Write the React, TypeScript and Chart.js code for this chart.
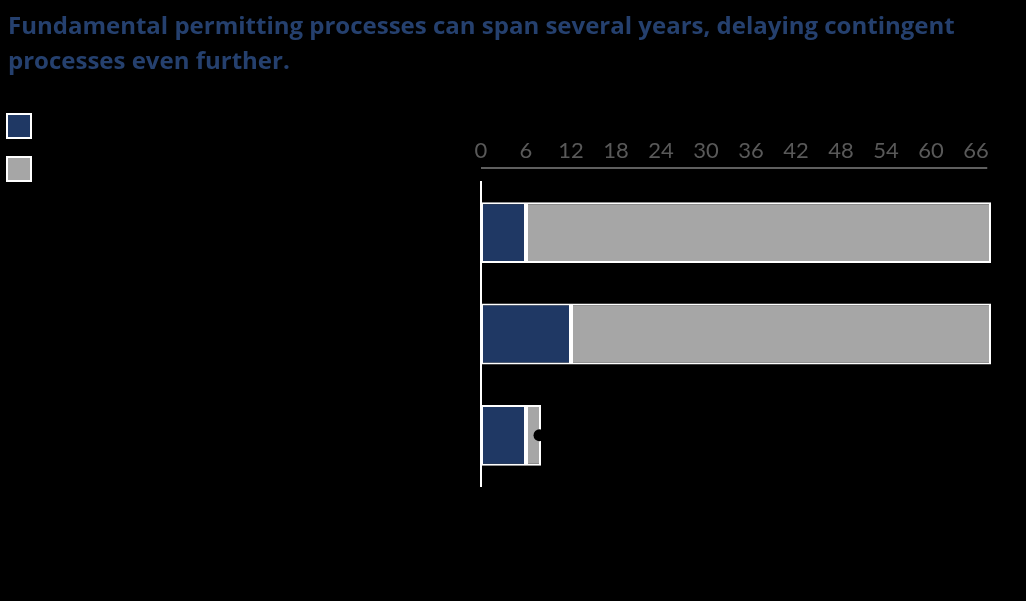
import React, { useEffect, useRef } from 'react';
import { Chart, registerables } from 'chart.js';

Chart.register(...registerables);

// ---- data (months) ----
const categories = ['Process A', 'Process B', 'Process C'];
const seriesNames = ['Fundamental permitting', 'Contingent processes'];
const fundamentalMonths = [6, 12, 6];
const contingentMonths = [62, 56, 2];
const markerValues: (number | null)[] = [null, null, 7.8];
const tickValues = [0, 6, 12, 18, 24, 30, 36, 42, 48, 54, 60, 66];
const axisMax = 68;

const titleLines = [
  'Fundamental permitting processes can span several years, delaying contingent',
  'processes even further.',
];

const DARK_BLUE = '#1F3864';
const GRAY = '#A6A6A6';

const topAxisLine = {
  id: 'topAxisLine',
  afterDraw(chart: any) {
    const { ctx, chartArea, scales } = chart;
    const x = scales.x;
    const y = chartArea.top - 14;
    ctx.save();
    ctx.strokeStyle = '#7F7F7F';
    ctx.lineWidth = 1.5;
    ctx.beginPath();
    ctx.moveTo(x.left, y);
    ctx.lineTo(x.getPixelForValue(axisMax - 0.5), y);
    ctx.stroke();
    ctx.restore();
  },
};

export default function App() {
  const canvasRef = useRef<HTMLCanvasElement | null>(null);

  useEffect(() => {
    document.body.style.margin = '0';
    document.body.style.background = '#000';
    const canvas = canvasRef.current;
    if (!canvas) return;
    const chart = new Chart(canvas, {
      type: 'bar',
      data: {
        labels: categories,
        datasets: [
          {
            type: 'line',
            label: 'marker',
            data: markerValues as any,
            showLine: false,
            pointRadius: 6,
            pointHoverRadius: 6,
            pointBackgroundColor: '#000',
            pointBorderWidth: 0,
            borderColor: '#000',
            stack: 'marker',
            order: 0,
          } as any,
          {
            label: seriesNames[0],
            data: fundamentalMonths,
            backgroundColor: DARK_BLUE,
            borderColor: '#FFFFFF',
            borderWidth: 2,
            borderSkipped: false,
            stack: 'time',
            barPercentage: 0.6,
            categoryPercentage: 1,
            order: 1,
          },
          {
            label: seriesNames[1],
            data: contingentMonths,
            backgroundColor: GRAY,
            borderColor: '#FFFFFF',
            borderWidth: 2,
            borderSkipped: false,
            stack: 'time',
            barPercentage: 0.6,
            categoryPercentage: 1,
            order: 1,
          },
        ],
      },
      options: {
        indexAxis: 'y',
        animation: false,
        responsive: false,
        maintainAspectRatio: false,
        layout: { padding: { top: 0, right: 35, bottom: 115, left: 0 } },
        plugins: {
          legend: { display: false },
          title: { display: false },
          tooltip: { enabled: false },
        },
        scales: {
          x: {
            position: 'top',
            stacked: true,
            min: 0,
            max: axisMax,
            grid: { display: false, drawTicks: false },
            border: { display: false },
            ticks: {
              color: '#595959',
              padding: 18,
              font: { family: 'Lato', size: 22 },
            },
            afterBuildTicks: (scale: any) => {
              scale.ticks = tickValues.map((v) => ({ value: v }));
            },
            afterFit: (scale: any) => {
              scale.height = 182;
            },
          },
          y: {
            stacked: true,
            grid: { display: false, drawTicks: false },
            border: { display: true, color: '#FFFFFF', width: 2 },
            ticks: { display: false },
            afterFit: (scale: any) => {
              scale.width = 481;
            },
          },
        },
      },
      plugins: [topAxisLine],
    });
    return () => chart.destroy();
  }, []);

  const legendColors = [DARK_BLUE, GRAY];

  return (
    <div
      style={{
        position: 'fixed',
        left: 0,
        top: 0,
        width: 1026,
        height: 601,
        background: '#000',
        overflow: 'hidden',
      }}
    >
      <canvas
        ref={canvasRef}
        width={1026}
        height={601}
        style={{ position: 'absolute', left: 0, top: 0, width: 1026, height: 601 }}
      />
      <div
        style={{
          position: 'absolute',
          left: 8,
          top: 7,
          fontFamily: '"Open Sans", sans-serif',
          fontWeight: 700,
          fontSize: 24,
          lineHeight: '35px',
          color: '#25406E',
          whiteSpace: 'nowrap',
        }}
      >
        {titleLines.map((l, i) => (
          <div key={i}>{l}</div>
        ))}
      </div>
      {seriesNames.map((name, i) => (
        <div
          key={name}
          style={{
            position: 'absolute',
            left: 6,
            top: i === 0 ? 113 : 156,
            display: 'flex',
            alignItems: 'center',
            fontFamily: 'Lato, sans-serif',
            fontSize: 18,
            color: '#000',
          }}
        >
          <div
            style={{
              width: 26,
              height: 26,
              boxSizing: 'border-box',
              border: '2px solid #FFFFFF',
              background: legendColors[i],
              marginRight: 8,
            }}
          />
          <span>{name}</span>
        </div>
      ))}
    </div>
  );
}
